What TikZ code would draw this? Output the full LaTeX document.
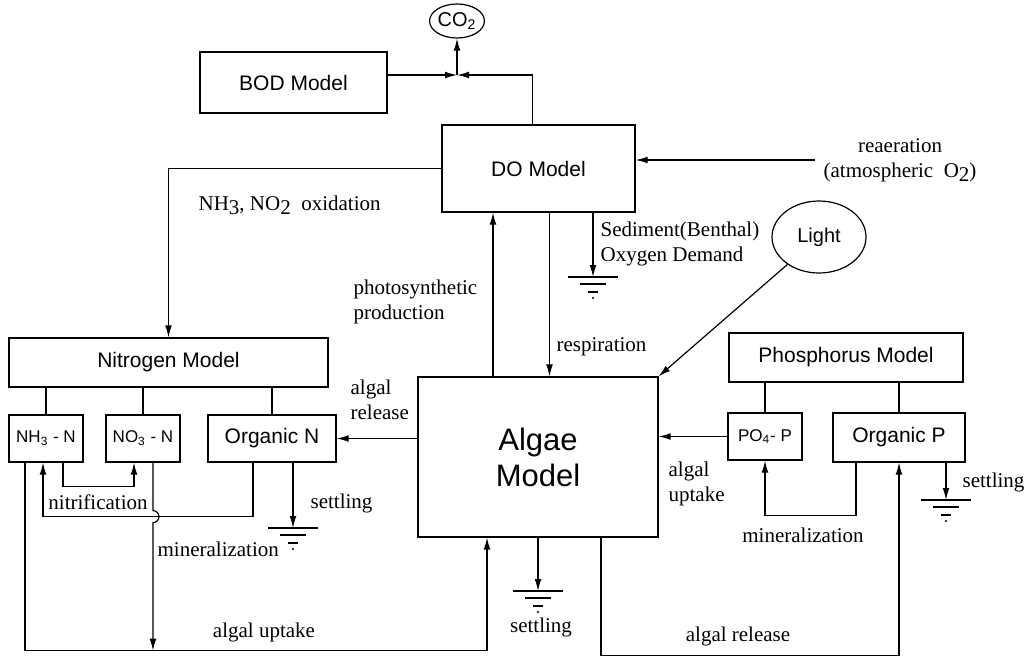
\documentclass[tikz,border=0pt]{standalone}
\usepackage{fontspec}
\setmainfont{Liberation Serif}
\setsansfont{Liberation Sans}
\usetikzlibrary{arrows.meta,shapes.geometric}

\newcommand{\lo}[1]{\raisebox{-0.45ex}{#1}}

\tikzset{
	model/.style={draw, inner sep=0pt, font=\sffamily\fontsize{10.5}{12.5}\selectfont},
	part/.style={model, minimum width=37pt, minimum height=23.5pt, font=\sffamily\fontsize{8.5}{10}\selectfont},
	oval/.style={draw, ellipse, inner sep=0pt, font=\sffamily\fontsize{10}{12}\selectfont},
	lbl/.style={inner sep=0pt, align=left, font=\fontsize{10.5}{12.5}\selectfont},
	arr/.style={-{Latex[length=6pt,width=3.4pt]}},
	earth/.pic={
		\draw (-25,0) -- (25,0);
		\draw (-13,7) -- (13,7);
		\draw (-5,15) -- (5,15);
		\fill (0,21) circle[radius=0.6pt];
	}
}

\begin{document}
\begin{tikzpicture}[x=0.5pt, y=-0.5pt, line width=0.6pt]
		\useasboundingbox (0,0) rectangle (1032,665);

		% models
		\node[model, minimum width=93.5pt, minimum height=30.5pt] (bod) at (293.5,82.5) {BOD Model};
		\node[model, minimum width=96.5pt, minimum height=43.5pt] (do) at (538.5,168.5) {DO Model};
		\node[model, minimum width=159.5pt, minimum height=24.5pt] (nitro) at (168.5,362.5) {Nitrogen Model};
		\node[model, minimum width=117pt, minimum height=24.5pt] (phos) at (846,357.5) {Phosphorus Model};
		\node[model, minimum width=120pt, minimum height=80pt, align=center, font=\sffamily\fontsize{15.5}{18}\selectfont] (algae) at (538,457) {Algae\\Model};

		\node[part] (nh3) at (46,438.5) {NH\textsubscript{3} - N};
		\node[part] (no3) at (143,438.5) {NO\textsubscript{3} - N};
		\node[model, minimum width=64pt, minimum height=23.5pt] (orgn) at (272,438.5) {Organic N};
		\node[part] (po4) at (765,436.5) {PO\textsubscript{4}- P};
		\node[model, minimum width=66pt, minimum height=24.5pt] (orgp) at (899,437.5) {Organic P};

		\node[oval, minimum width=25pt, minimum height=17pt] (co2) at (457,21) {CO\textsubscript{2}};
		\node[oval, minimum width=47pt, minimum height=36pt] (light) at (819,237) {Light};

		% labels
		\node[lbl, anchor=west] (oxid) at (198,205) {NH\lo{3}, NO\lo{2}~ oxidation};
		\node[lbl, align=center] (reaer) at (900,160) {reaeration\\(atmospheric~ O\lo{2})};
		\node[lbl, anchor=west] (sedim) at (600,244) {Sediment(Benthal)\\Oxygen Demand};
		\node[lbl, anchor=west] (photo) at (353,302) {photosynthetic\\production};
		\node[lbl, anchor=west] (resp) at (556,347) {respiration};
		\node[lbl, anchor=west] (relN) at (350,400) {algal\\release};
		\node[lbl, anchor=west] (uptP) at (668,484) {algal\\uptake};
		\node[lbl] (nitrif) at (98,502) {nitrification};
		\node[lbl, anchor=west] (minN) at (157,549) {mineralization};
		\node[lbl, anchor=west] (setN) at (310,503) {settling};
		\node[lbl] (minP) at (803,535) {mineralization};
		\node[lbl, anchor=west] (setP) at (962,482) {settling};
		\node[lbl] (setA) at (541,627) {settling};
		\node[lbl] (uptN) at (264,632) {algal uptake};
		\node[lbl] (relP) at (738,636) {algal release};

		% grounds
		\coordinate (jn) at (457,75);
		\coordinate (gs) at (593,277);
		\coordinate (gn) at (293,528);
		\coordinate (ga) at (538,591);
		\coordinate (gp) at (946,500);
		\foreach \g in {gs,gn,ga,gp}
			\pic at (\g) {earth};

		% top
		\draw[arr] (jn) -- (co2.south);
		\draw[arr] (bod.east |- jn) -- (jn);
		\draw[arr] ([xshift=-3pt]do.north) |- (jn);
		\draw[arr] (do.west) -| (nitro.north);
		\draw[arr] ([xshift=-4pt]reaer.west) -- (reaer.west -| do.east);
		\draw[arr] ([xshift=27.25pt]do.south) -- (gs);
		\draw[arr] ([xshift=-22.5pt]algae.north) -- ([xshift=-22.5pt]algae.north |- do.south);
		\draw[arr] ([xshift=5.5pt]do.south) -- ([xshift=5.5pt]do.south |- algae.north);
		\draw[arr] (light) -- (algae.north east);

		% nitrogen
		\foreach \n in {nh3,no3,orgn}
			\draw (\n.north) -- (\n.north |- nitro.south);
		\draw[arr] (algae.west |- orgn) -- (orgn.east);
		\draw[arr] ([xshift=8.5pt]nh3.south) -- ++(0,24) -| ([xshift=-4.5pt]no3.south);
		\draw[arr] ([xshift=-9.5pt]orgn.south) -- ++(0,54) -| ([xshift=-1.5pt]nh3.south);
		\draw[arr] ([xshift=5pt]no3.south) -- ++(0,48) arc[start angle=90, end angle=-90, radius=3pt] -- ++(0,128);
		\draw[arr] ([xshift=10.5pt]orgn.south) -- (gn);
		\draw[arr] ([xshift=-10.5pt]nh3.south) -- ++(0,188) -| ([xshift=-25.5pt]algae.south);

		% algae
		\draw[arr] (algae.south) -- (ga);

		% phosphorus
		\foreach \n in {po4,orgp}
			\draw (\n.north) -- (\n.north |- phos.south);
		\draw[arr] (po4.west) -- (po4.west -| algae.east);
		\draw[arr] ([xshift=-21.5pt]orgp.south) -- ++(0,53) -| (po4.south);
		\draw[arr] ([xshift=23.5pt]orgp.south) -- (gp);
		\draw[arr] ([xshift=31.5pt]algae.south) -- ++(0,118) -| (orgp.south);
		\end{tikzpicture}
\end{document}
